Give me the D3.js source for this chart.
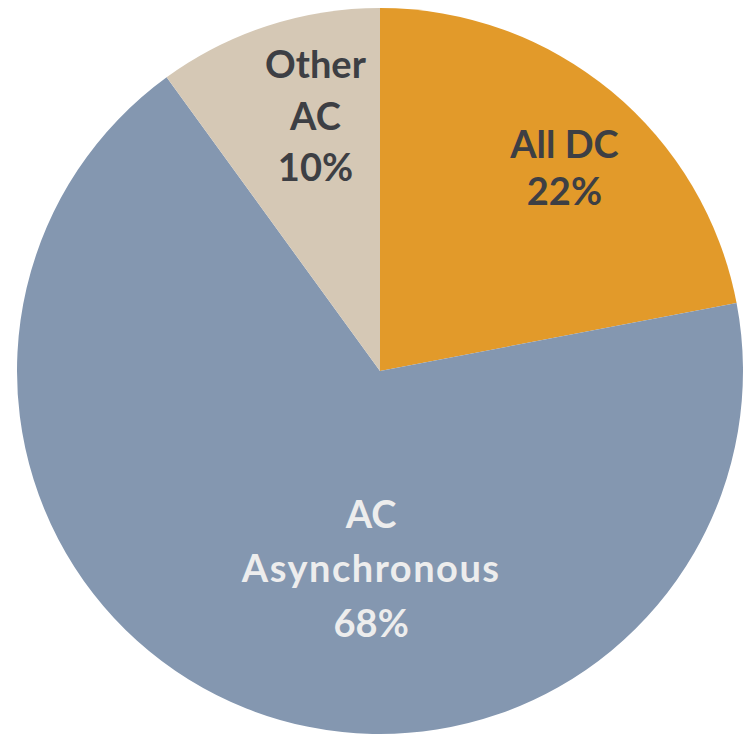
<!DOCTYPE html>
<html>
<head>
<meta charset="utf-8">
<script src="https://cdn.jsdelivr.net/npm/d3@7"></script>
<style>
  html, body { margin: 0; padding: 0; background: #ffffff; }
  svg { display: block; }
  text { font-family: Lato, "Open Sans", sans-serif; font-weight: 700; }
</style>
</head>
<body>
<svg id="chart" width="745" height="735"></svg>
<script>
// Share of power types (percent)
const categories = ["All DC", "AC Asynchronous", "Other AC"];
const labelLines = [["All DC"], ["AC", "Asynchronous"], ["Other", "AC"]];
const shares = [22, 68, 10];
const sliceColors = ["#E29A2A", "#8497B0", "#D5C8B5"];
const labelColors = ["#3D3F44", "#EDEDED", "#3D3F44"];

const width = 745, height = 735;
const cx = 380, cy = 371, radius = 363;

const svg = d3.select("#chart");
const g = svg.append("g").attr("transform", `translate(${cx},${cy})`);

const data = categories.map((c, i) => ({ name: c, value: shares[i], i }));

const pie = d3.pie().value(d => d.value).sort(null);
const arcs = pie(data);

const arc = d3.arc().innerRadius(0).outerRadius(radius);

const color = d3.scaleOrdinal().domain(categories).range(sliceColors);

g.selectAll("path.slice")
  .data(arcs)
  .join("path")
  .attr("class", "slice")
  .attr("d", arc)
  .attr("fill", d => color(d.data.name));

// Label placement: centroid on a label ring, nudged per slice
const labelArc = d3.arc().innerRadius(radius * 0.62).outerRadius(radius * 0.62);
const nudge = {
  "All DC": [41, -29],
  "AC Asynchronous": [74, -11],
  "Other AC": [5, -40]
};
const lineGap = { "All DC": 47, "AC Asynchronous": 54.5, "Other AC": 51.5 };
const fontSize = 38;

arcs.forEach(a => {
  const [x0, y0] = labelArc.centroid(a);
  const [dx, dy] = nudge[a.data.name];
  const lines = labelLines[a.data.i].concat([a.data.value + "%"]);
  const gap = lineGap[a.data.name];
  const t = g.append("text")
    .attr("text-anchor", "middle")
    .attr("fill", labelColors[a.data.i])
    .attr("font-size", fontSize)
    .attr("x", x0 + dx)
    .attr("y", y0 + dy - (lines.length - 1) * gap / 2 + 13);
  lines.forEach((ln, k) => {
    const s = t.append("tspan")
      .attr("x", x0 + dx)
      .attr("dy", k === 0 ? 0 : gap)
      .text(ln);
    if (ln === "Asynchronous") s.attr("letter-spacing", 1.5);
  });
});
</script>
</body>
</html>
